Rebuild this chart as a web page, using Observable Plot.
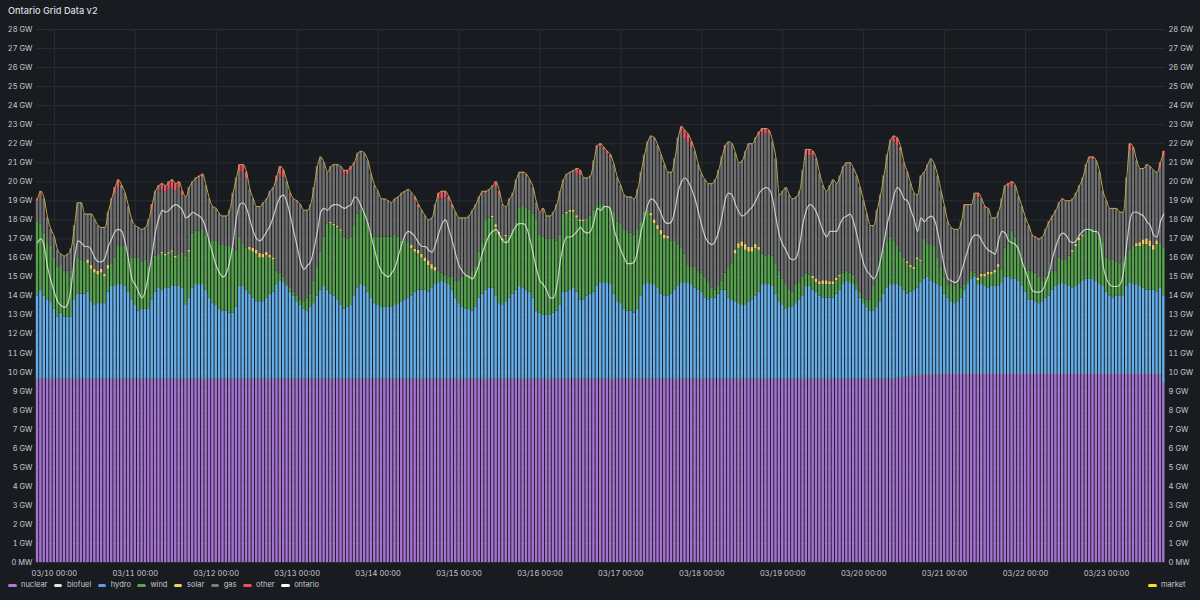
<!DOCTYPE html>
<html><head><meta charset="utf-8">
<script src="https://cdn.jsdelivr.net/npm/d3@7"></script>
<script src="https://cdn.jsdelivr.net/npm/@observablehq/plot@0.6"></script>
<style>
html,body{margin:0;padding:0;background:#181b1f;width:1200px;height:600px;overflow:hidden;font-family:Inter,"DejaVu Sans",sans-serif;}
#title{height:22px;line-height:22px;padding-left:8px;color:#d8d9e0;font-size:9.2px;font-weight:500;}
#chart svg{display:block;overflow:visible}
#legend{position:relative;height:18px;font-size:7.5px;color:#c7c8d2;}
#legend .group{position:absolute;top:-4px;left:8px;height:14px;display:flex;align-items:center;}
#legend .item{display:flex;align-items:center;margin-right:6.5px;white-space:nowrap;line-height:14px}
#legend .sw{width:8.5px;height:3px;border-radius:1.5px;margin-right:4.5px}
</style></head>
<body>
<div id="title">Ontario Grid Data v2</div>
<div id="chart"></div>
<div id="legend"></div>
<script>
// Hour index relative to 03/10 00:00, one bar per hour: -5 .. 329
const firstHour = -5, lastHour = 329;
const dayLabels = ["03/10 00:00","03/11 00:00","03/12 00:00","03/13 00:00","03/14 00:00","03/15 00:00","03/16 00:00","03/17 00:00","03/18 00:00","03/19 00:00","03/20 00:00","03/21 00:00","03/22 00:00","03/23 00:00"];
const gwTicks = [0,1,2,3,4,5,6,7,8,9,10,11,12,13,14,15,16,17,18,19,20,21,22,23,24,25,26,27,28];
const seriesNames = ["nuclear","biofuel","hydro","wind","solar","gas","other"];
const seriesColors = ["#a672d2","#cdeccb","#66aeea","#57a24c","#f3c96a","#707070","#ef5266"];

// GW per hour (rows: 5 hours before 03/10, then one row per day)
const nuclear = [
9.6,9.6,9.6,9.6,9.6,
9.6,9.6,9.6,9.6,9.6,9.6,9.6,9.6, 9.6,9.6,9.6,9.6,9.6,9.6,9.6,9.6, 9.6,9.6,9.6,9.6,9.6,9.6,9.6,9.6,
9.6,9.6,9.6,9.6,9.6,9.6,9.6,9.6, 9.6,9.6,9.6,9.6,9.6,9.6,9.6,9.6, 9.6,9.6,9.6,9.6,9.6,9.6,9.6,9.6,
9.6,9.6,9.6,9.6,9.6,9.6,9.6,9.6, 9.6,9.6,9.6,9.6,9.6,9.6,9.6,9.6, 9.6,9.6,9.6,9.6,9.6,9.6,9.6,9.6,
9.6,9.6,9.6,9.6,9.6,9.6,9.6,9.6, 9.6,9.6,9.6,9.6,9.6,9.6,9.6,9.6, 9.6,9.6,9.6,9.6,9.6,9.6,9.6,9.6,
9.6,9.6,9.6,9.6,9.6,9.6,9.6,9.6, 9.6,9.6,9.6,9.6,9.6,9.6,9.6,9.6, 9.6,9.6,9.6,9.6,9.6,9.6,9.6,9.6,
9.6,9.6,9.6,9.6,9.6,9.6,9.6,9.6, 9.6,9.6,9.6,9.6,9.6,9.6,9.6,9.6, 9.6,9.6,9.6,9.6,9.6,9.6,9.6,9.6,
9.6,9.6,9.6,9.6,9.6,9.6,9.6,9.6, 9.6,9.6,9.6,9.6,9.6,9.6,9.6,9.6, 9.6,9.6,9.6,9.6,9.6,9.6,9.6,9.6,
9.6,9.6,9.6,9.6,9.6,9.6,9.6,9.6, 9.6,9.6,9.6,9.6,9.6,9.6,9.6,9.6, 9.6,9.6,9.6,9.6,9.6,9.6,9.6,9.6,
9.6,9.6,9.6,9.6,9.6,9.6,9.6,9.6, 9.6,9.6,9.6,9.6,9.6,9.6,9.6,9.6, 9.6,9.6,9.6,9.6,9.6,9.6,9.6,9.6,
9.6,9.6,9.6,9.6,9.6,9.6,9.6,9.6, 9.6,9.6,9.6,9.6,9.6,9.6,9.6,9.6, 9.6,9.6,9.6,9.6,9.6,9.6,9.6,9.6,
9.6,9.6,9.6,9.6,9.6,9.6,9.6,9.6, 9.6,9.6, 9.65,9.65,9.7,9.7,9.75,9.8,9.8,9.85, 9.85,9.85,9.85,9.85,9.85, 9.9,
9.9,9.9,9.9,9.9,9.9,9.9,9.9,9.9, 9.9,9.9,9.9,9.9,9.9,9.9,9.9,9.9, 9.9,9.9,9.9,9.9,9.9,9.9,9.9,9.9,
9.9,9.9,9.9,9.9,9.9,9.9,9.9,9.9, 9.9,9.9,9.9,9.9,9.9,9.9,9.9,9.9, 9.9,9.9,9.9,9.9,9.9,9.9,9.9,9.9,
9.9,9.9,9.9,9.9,9.9,9.9,9.9,9.9, 9.9,9.9,9.9,9.9,9.9,9.9,9.9,9.9, 9.9,9.4
];
const biofuel = [
0.03,0.03,0.03,0.03,0.03,
0.03,0.03,0.03,0.03,0.03,0.03,0.03,0.03, 0.03,0.03,0.03,0.03,0.03,0.03,0.03,0.03, 0.03,0.03,0.03,0.03,0.03,0.03,0.03,0.03,
0.03,0.03,0.03,0.03,0.03,0.03,0.03,0.03, 0.03,0.03,0.03,0.03,0.03,0.03,0.03,0.03, 0.03,0.03,0.03,0.03,0.03,0.03,0.03,0.03,
0.03,0.03,0.03,0.03,0.03,0.03,0.03,0.03, 0.03,0.03,0.03,0.03,0.03,0.03,0.03,0.03, 0.03,0.03,0.03,0.03,0.03,0.03,0.03,0.03,
0.03,0.03,0.03,0.03,0.03,0.03,0.03,0.03, 0.03,0.03,0.03,0.03,0.03,0.03,0.03,0.03, 0.03,0.03,0.03,0.03,0.03,0.03,0.03,0.03,
0.03,0.03,0.03,0.03,0.03,0.03,0.03,0.03, 0.03,0.03,0.03,0.03,0.03,0.03,0.03,0.03, 0.03,0.03,0.03,0.03,0.03,0.03,0.03,0.03,
0.03,0.03,0.03,0.03,0.03,0.03,0.03,0.03, 0.03,0.03,0.03,0.03,0.03,0.03,0.03,0.03, 0.03,0.03,0.03,0.03,0.03,0.03,0.03,0.03,
0.03,0.03,0.03,0.03,0.03,0.03,0.03,0.03, 0.03,0.03,0.03,0.03,0.03,0.03,0.03,0.03, 0.03,0.03,0.03,0.03,0.03,0.03,0.03,0.03,
0.03,0.03,0.03,0.03,0.03,0.03,0.03,0.03, 0.03,0.03,0.03,0.03,0.03,0.03,0.03,0.03, 0.03,0.03,0.03,0.03,0.03,0.03,0.03,0.03,
0.03,0.03,0.03,0.03,0.03,0.03,0.03,0.03, 0.03,0.03,0.03,0.03,0.03,0.03,0.03,0.03, 0.03,0.03,0.03,0.03,0.03,0.03,0.03,0.03,
0.03,0.03,0.03,0.03,0.03,0.03,0.03,0.03, 0.03,0.03,0.03,0.03,0.03,0.03,0.03,0.03, 0.03,0.03,0.03,0.03,0.03,0.03,0.03,0.03,
0.03,0.03,0.03,0.03,0.03,0.03,0.03,0.03, 0.03,0.03,0.03,0.03,0.03,0.03,0.03,0.03, 0.03,0.03,0.03,0.03,0.03,0.03,0.03,0.03,
0.03,0.03,0.03,0.03,0.03,0.03,0.03,0.03, 0.03,0.03,0.03,0.03,0.03,0.03,0.03,0.03, 0.03,0.03,0.03,0.03,0.03,0.03,0.03,0.03,
0.03,0.03,0.03,0.03,0.03,0.03,0.03,0.03, 0.03,0.03,0.03,0.03,0.03,0.03,0.03,0.03, 0.03,0.03,0.03,0.03,0.03,0.03,0.03,0.03,
0.03,0.03,0.03,0.03,0.03,0.03,0.03,0.03, 0.03,0.03,0.03,0.03,0.03,0.03,0.03,0.03, 0.03,0.03
];
// top of the hydro layer (nuclear + biofuel + hydro), GW
const hydroLevel = [
14.0,14.3,14.0,13.8,13.7,13.3,12.9,13.1,12.9,12.9,12.9,13.8,14.1,14.1,14.1,14.2,13.7,13.5,13.6,13.6,13.6,14.2,14.5,14.5,14.6,14.6,14.5,14.2,13.8,13.5,13.2,13.3,13.3,13.3,13.8,14.2,14.4,14.3,14.4,14.4,14.5,14.5,14.5,
14.4,13.5,13.9,14.4,14.6,14.6,14.6,14.3,13.9,13.6,13.5,13.3,13.2,13.2,13.1,13.1,13.4,14.5,14.5,14.3,14.1,13.9,13.7,13.7,13.7,13.9,14.1,14.2,14.6,14.8,14.7,14.5,14.2,14.0,13.7,13.5,13.3,13.2,13.4,13.6,14.0,14.3,14.5,
14.3,14.1,14.0,13.8,13.5,13.3,13.4,13.5,14.0,14.4,14.6,14.5,14.2,13.9,13.6,13.5,13.4,13.4,13.4,13.4,13.5,13.6,13.7,13.8,13.9,14.0,14.2,14.3,14.3,14.3,14.2,14.4,14.6,14.7,14.8,14.7,14.6,14.3,13.9,13.6,13.4,13.3,13.3,
13.2,13.4,13.9,14.1,14.3,14.4,14.4,14.0,13.6,13.5,13.7,13.9,14.1,14.3,14.5,14.4,14.3,14.2,13.9,13.2,13.1,13.0,13.0,13.0,13.1,13.2,13.5,14.2,14.2,14.3,14.4,14.2,13.8,13.8,14.0,14.1,14.2,14.5,14.7,14.7,14.7,14.6,14.1,
13.7,13.6,13.3,13.2,13.2,13.1,13.3,14.0,14.6,14.7,14.6,14.6,14.4,14.1,14.0,14.0,14.1,14.3,14.5,14.7,14.7,14.7,14.6,14.4,14.3,14.2,13.9,13.8,13.9,13.9,14.1,14.3,14.3,13.9,13.8,13.7,13.6,13.5,13.5,13.7,13.8,14.0,14.2,
14.6,14.6,14.6,14.5,14.1,13.7,13.5,13.3,13.4,13.4,13.6,13.8,14.0,14.5,14.5,14.3,14.2,14.0,13.9,13.9,13.9,13.9,14.1,14.3,14.6,14.8,14.7,14.6,14.3,13.9,13.6,13.4,13.2,13.2,13.4,13.7,14.1,14.4,14.6,14.6,14.6,14.5,14.3,
14.1,14.2,14.3,14.4,14.7,14.9,15.0,14.8,14.7,14.6,14.5,14.1,13.9,13.7,13.6,13.7,13.9,14.3,14.6,14.9,15.0,14.6,14.6,14.5,14.4,14.5,14.5,14.5,14.7,15.0,15.0,14.9,14.9,14.8,14.5,14.2,13.8,13.8,13.7,13.6,13.7,13.9,14.0,
14.3,14.5,14.6,14.7,14.6,14.5,14.4,14.5,14.6,14.8,14.9,14.9,14.9,14.8,14.6,14.5,14.2,14.0,13.9,14.0,14.0,14.0,14.5,14.7,14.6,14.6,14.5,14.4,14.3,14.3,14.3,14.2,14.4,14.0
];
// top of the wind layer, GW
const windLevel = [
17.9,17.8,17.3,16.8,16.6,16.0,15.5,15.6,15.3,15.3,15.0,15.5,16.0,15.9,15.8,15.7,15.4,15.2,15.1,15.2,15.0,15.4,15.7,16.0,16.6,16.6,16.6,16.0,16.0,16.0,16.0,15.8,15.9,15.5,15.9,16.1,16.2,16.2,16.1,16.2,16.3,16.0,16.1,
16.2,16.0,16.3,17.3,17.4,17.4,17.5,17.2,17.0,16.9,16.9,16.7,16.7,16.6,16.6,16.5,16.4,17.1,16.7,16.5,16.4,16.3,16.2,16.0,16.0,16.1,16.0,15.9,15.3,15.2,15.0,14.6,14.4,14.2,14.0,13.8,13.7,13.9,14.1,14.8,15.5,16.3,17.1,
17.8,17.8,17.7,17.6,17.4,17.1,17.0,17.1,17.7,18.3,18.5,18.4,17.9,17.3,17.1,17.1,17.1,17.1,17.1,17.1,17.2,17.1,16.9,16.9,16.8,16.5,16.3,16.2,16.0,15.8,15.6,15.4,15.3,15.3,15.2,15.1,15.0,15.0,14.8,14.8,15.0,15.1,15.1,
15.3,15.5,16.3,16.8,18.0,18.1,18.1,17.6,17.2,16.9,17.1,17.2,17.5,17.9,18.6,18.7,18.6,18.5,18.3,18.0,17.2,17.1,17.0,17.0,17.0,16.9,17.2,18.3,18.3,18.4,18.4,18.1,17.9,17.9,18.1,18.2,18.5,18.7,18.8,18.8,18.7,18.7,18.4,
17.9,17.8,17.5,17.4,17.3,17.2,17.5,17.9,18.4,18.5,18.2,17.8,17.5,17.2,17.0,17.0,16.9,16.9,16.7,16.5,16.2,15.6,15.5,15.5,15.3,15.2,15.0,14.7,14.4,14.3,14.5,14.8,15.2,15.5,15.7,16.2,16.5,16.6,16.4,16.3,16.3,16.5,16.4,
16.2,16.1,16.2,16.1,15.7,15.3,14.9,14.6,14.3,14.2,14.6,14.7,15.0,15.2,15.1,14.9,14.7,14.6,14.6,14.6,14.6,14.6,14.8,15.0,15.2,15.3,15.2,15.1,14.6,14.2,13.9,13.8,13.8,14.5,14.9,15.8,16.4,16.8,17.1,16.9,16.6,16.3,16.0,
15.7,15.5,15.4,15.9,15.8,17.0,16.7,16.7,16.6,16.0,15.5,15.0,14.6,14.6,14.5,14.6,14.4,14.6,14.8,15.3,15.2,14.8,15.0,15.0,15.1,15.1,15.2,15.5,15.4,16.5,16.7,17.4,17.1,16.7,16.0,15.5,15.3,15.3,15.2,15.0,14.8,15.0,15.3,
15.3,15.3,16.0,15.9,15.9,16.1,16.3,16.6,16.9,17.1,17.4,17.5,17.5,17.4,17.3,16.8,16.0,15.9,15.9,15.8,15.7,15.8,16.1,16.4,16.6,16.6,16.6,16.7,16.7,16.6,16.4,16.7,16.8,16.5
];
const solar = [
0,0,0,0,0,
0,0,0,0,0,0,0,0,0,0,0.2,0.2,0.2,0.2,0.2,0.15,0.2,0,0,0,0,0,0,0,
0,0,0,0,0,0,0,0,0.08,0.08,0.08,0.08,0.08,0.05,0.05,0.05,0.1,0,0,0,0,0,0,0,
0,0,0,0,0,0,0,0,0,0,0.15,0.2,0.2,0.25,0.2,0.2,0.15,0.1,0,0,0,0,0,0,
0,0,0,0,0,0,0,0,0,0,0.08,0.08,0.08,0.08,0,0,0,0,0,0,0,0,0,0,
0,0,0,0,0,0,0,0,0,0,0.15,0.15,0.2,0.2,0.2,0.25,0.25,0.2,0,0,0,0,0,0,
0,0,0,0,0,0,0,0,0,0,0.1,0.15,0.15,0.1,0.1,0,0,0,0,0,0,0,0,0,
0,0,0,0,0,0,0,0,0.1,0.1,0.12,0.12,0.1,0.1,0,0,0,0,0,0,0,0,0,0,
0,0,0,0,0,0,0,0,0,0.15,0.2,0.2,0.25,0.2,0.15,0,0,0,0,0,0,0,0,0,
0,0,0,0,0,0,0,0,0,0,0.2,0.25,0.25,0.3,0.25,0.25,0.2,0.15,0,0,0,0,0,0,
0,0,0,0,0,0,0,0,0,0.15,0.2,0.15,0.2,0.2,0.15,0.15,0.15,0.1,0,0,0,0,0,0,
0,0,0,0,0,0,0,0,0,0,0,0,0,0.1,0.1,0.1,0.1,0.08,0,0,0,0,0,0,
0,0,0,0,0,0,0,0,0,0,0.15,0.15,0.15,0.15,0.15,0.15,0.15,0,0,0,0,0,0,0,
0,0,0,0,0,0,0,0,0,0,0,0,0,0,0.1,0.12,0.12,0.1,0,0,0,0,0,0,
0,0,0,0,0,0,0,0,0,0.15,0.2,0.25,0.3,0.3,0.25,0.2,0,0
];
const other = [
0.15,0.2,0.02,0.02,0.02,
0.02,0.02,0.02,0.02,0.02,0.02,0.02,0.02,0.02,0.02,0.02,0.02,0.02,0.02,0.02,0.02,0.02,0.1,0.35,0.4,0.15,0.02,0.02,0.02,
0.02,0.02,0.02,0.02,0.02,0.3,0.02,0.2,0.3,0.35,0.4,0.45,0.4,0.3,0.25,0.02,0.02,0.02,0.02,0.02,0.2,0.02,0.02,0.02,
0.05,0.02,0.02,0.02,0.02,0.02,0.02,0.4,0.4,0.35,0.02,0.02,0.02,0.02,0.02,0.02,0.02,0.02,0.3,0.45,0.4,0.02,0.1,0.02,
0.02,0.02,0.02,0.02,0.02,0.02,0.02,0.02,0.02,0.02,0.02,0.02,0.02,0.02,0.2,0.25,0.2,0.1,0.02,0.02,0.02,0.02,0.02,0.02,
0.02,0.02,0.02,0.02,0.02,0.02,0.02,0.02,0.02,0.02,0.02,0.2,0.15,0.02,0.02,0.02,0.02,0.02,0.3,0.4,0.35,0.25,0.15,0.02,
0.02,0.02,0.02,0.02,0.02,0.02,0.02,0.02,0.15,0.02,0.02,0.3,0.2,0.02,0.02,0.02,0.02,0.02,0.02,0.1,0.02,0.02,0.02,0.02,
0.02,0.1,0.02,0.02,0.02,0.02,0.02,0.02,0.02,0.02,0.02,0.3,0.3,0.02,0.02,0.02,0.02,0.15,0.15,0.15,0.15,0.15,0.02,0.02,
0.02,0.02,0.02,0.02,0.02,0.02,0.02,0.02,0.02,0.1,0.02,0.02,0.1,0.02,0.02,0.02,0.02,0.02,0.3,0.45,0.45,0.3,0.02,0.02,
0.02,0.02,0.02,0.02,0.02,0.02,0.02,0.15,0.02,0.02,0.02,0.02,0.02,0.02,0.1,0.02,0.02,0.2,0.25,0.3,0.2,0.02,0.02,0.02,
0.02,0.02,0.02,0.02,0.02,0.02,0.02,0.3,0.35,0.25,0.1,0.02,0.02,0.02,0.02,0.02,0.02,0.02,0.02,0.02,0.02,0.02,0.02,0.1,
0.02,0.02,0.02,0.02,0.02,0.02,0.02,0.02,0.02,0.35,0.4,0.2,0.02,0.1,0.02,0.02,0.02,0.02,0.02,0.02,0.05,0.02,0.02,0.02,
0.02,0.02,0.02,0.02,0.02,0.02,0.1,0.02,0.02,0.02,0.25,0.02,0.1,0.02,0.02,0.02,0.02,0.02,0.02,0.2,0.25,0.02,0.02,0.02,
0.02,0.02,0.02,0.02,0.1,0.02,0.02,0.1,0.02,0.02,0.02,0.1,0.02,0.02,0.02,0.02,0.02,0.02,0.02,0.1,0.15,0.02,0.05,0.02,
0.02,0.02,0.02,0.02,0.02,0.02,0.02,0.35,0.2,0.02,0.02,0.02,0.02,0.02,0.02,0.02,0.3,0.35
];
// market demand (top of the stack), GW
const market = [
19.1,19.5,19.1,18.1,17.5,17.1,16.4,16.2,16.1,16.2,16.5,17.7,18.9,18.9,18.3,18.3,18.3,18.0,17.7,17.6,17.6,18.4,19.1,19.7,20.1,19.8,19.4,18.7,18.0,17.7,17.6,17.5,17.6,18.0,18.8,19.5,19.8,19.9,19.8,20.0,20.1,19.9,20.0,
19.5,19.2,19.7,20.0,20.2,20.3,20.4,19.8,19.1,18.7,18.6,18.3,18.2,18.2,18.5,19.4,20.2,20.9,20.9,20.5,19.6,19.1,18.7,18.7,18.9,19.1,19.5,19.7,20.3,20.8,20.6,20.0,19.4,19.1,19.0,18.8,18.5,18.5,18.8,19.7,20.8,21.3,21.0,
20.5,20.8,20.9,20.9,20.8,20.6,20.6,20.8,21.0,21.5,21.6,21.5,21.1,20.4,19.8,19.5,19.1,19.1,19.0,18.9,19.1,19.2,19.4,19.5,19.6,19.4,19.2,18.8,18.5,18.2,18.0,18.1,18.8,19.4,19.5,19.5,19.2,18.8,18.4,18.1,18.1,18.1,18.2,
18.5,18.8,19.2,19.5,19.5,19.6,19.8,20.0,19.5,18.8,18.7,19.1,19.4,20.1,20.5,20.5,20.4,20.1,19.7,18.9,18.4,18.6,18.2,18.2,18.4,18.8,19.5,20.1,20.4,20.5,20.6,20.7,20.6,20.2,20.2,20.3,21.1,21.9,22.0,21.8,21.6,21.4,20.9,
20.2,19.8,19.3,19.2,19.2,19.1,19.6,20.5,21.4,22.1,22.4,22.3,21.9,21.4,20.9,20.5,20.5,21.2,22.3,22.9,22.7,22.5,22.1,21.6,20.9,20.4,20.1,19.9,19.9,20.1,20.6,21.3,21.9,22.1,22.0,21.5,21.0,21.1,21.6,22.0,22.0,22.3,22.6,
22.8,22.8,22.7,22.1,21.2,19.3,19.5,19.7,19.3,19.1,19.2,19.5,20.6,21.7,21.7,21.6,21.2,20.4,19.8,19.5,19.8,20.1,19.9,20.3,20.8,21.0,21.0,20.7,20.3,19.7,19.0,18.3,17.7,17.7,18.5,19.3,20.3,21.4,22.2,22.4,22.3,21.8,21.0,
20.5,19.9,19.4,19.3,20.3,20.5,20.9,21.2,20.9,20.3,19.5,18.7,17.9,17.6,17.5,17.5,17.9,18.8,18.8,18.8,19.4,19.4,19.1,18.7,18.6,18.1,18.1,18.4,19.1,19.8,19.9,20.0,19.8,19.2,18.7,18.1,17.7,17.2,17.1,17.0,17.1,17.5,17.9,
18.2,18.5,18.9,19.1,19.0,19.0,19.1,19.4,19.8,20.2,20.9,21.3,21.3,21.1,20.5,19.5,19.0,18.6,18.6,18.6,18.4,18.4,20.2,22.0,21.8,21.1,20.7,20.7,20.9,20.8,20.6,20.5,21.0,21.6
];
// Ontario demand, GW
const ontario = [
16.8,17.0,16.6,15.5,14.8,14.2,13.7,13.5,13.4,13.6,14.5,16.0,16.9,16.8,16.6,16.6,16.4,16.0,15.8,15.8,16.0,16.6,17.0,17.4,17.5,17.4,16.8,15.9,14.9,14.6,14.2,13.9,14.3,15.2,16.2,17.4,18.1,18.5,18.4,18.5,18.7,18.8,18.7,
18.5,18.1,18.2,18.4,18.3,18.2,18.0,17.5,16.8,16.2,15.6,15.2,15.0,15.2,15.8,16.8,18.1,18.8,18.9,18.6,18.0,17.4,17.0,16.9,17.1,17.4,17.7,18.2,18.8,19.2,19.3,18.9,18.2,17.4,16.6,15.8,15.4,15.6,15.8,16.5,17.4,18.4,18.6,
18.5,18.7,18.8,18.8,18.7,18.6,18.7,18.8,19.2,19.1,18.7,18.3,17.8,17.1,16.4,15.7,15.3,15.1,15.0,15.2,15.5,16.1,16.7,17.2,17.4,17.3,17.1,16.8,16.6,16.6,16.4,16.3,16.7,17.3,17.8,18.0,17.5,16.9,16.2,15.6,15.3,15.1,15.0,
14.9,15.2,15.7,16.3,16.8,17.2,17.4,17.5,17.2,16.9,16.8,17.0,17.4,17.7,17.8,17.8,17.6,17.0,16.2,15.4,14.8,14.6,14.3,13.9,13.9,14.5,15.8,16.7,17.1,17.1,17.2,17.4,17.6,17.4,17.3,17.4,17.9,18.6,18.5,18.7,18.7,18.5,17.5,
16.9,16.4,16.0,15.7,15.7,15.8,16.4,17.4,18.1,18.8,19.1,19.0,18.7,18.3,17.9,17.8,17.9,18.5,19.5,20.0,20.2,20.0,19.6,19.1,18.4,17.7,17.1,16.8,16.7,16.9,17.4,18.2,19.1,19.4,19.3,18.8,18.4,18.2,18.3,18.5,18.7,19.0,19.4,
19.6,19.7,19.6,19.1,18.1,17.2,16.7,16.4,16.0,15.9,16.0,16.7,17.8,18.5,18.8,18.7,18.4,17.9,17.4,17.1,17.4,17.4,17.4,17.8,18.1,18.2,18.3,17.9,17.2,16.4,15.7,15.3,15.1,14.9,15.2,15.9,16.8,17.8,18.5,19.3,19.7,19.5,19.1,
19.0,18.5,18.0,17.4,18.1,17.9,18.1,18.2,18.0,17.3,16.4,15.5,14.9,14.8,14.7,14.8,15.3,15.9,16.5,17.0,17.2,17.2,16.9,16.6,16.4,16.3,16.2,16.9,17.4,17.3,16.9,16.8,16.7,16.4,15.8,15.3,14.8,14.3,14.2,14.2,14.3,14.7,15.2,
16.0,16.6,17.1,17.3,17.2,16.9,16.8,16.9,17.2,17.4,17.5,17.5,17.4,17.4,17.1,15.6,14.9,14.6,14.5,14.5,14.6,15.2,16.7,18.0,18.4,18.4,18.3,18.2,17.9,17.7,17.2,17.1,17.9,18.3
];

const hours = d3.range(firstHour, lastHour + 1);
const arrays = {nuclear, biofuel, hydroLevel, windLevel, solar, other, market, ontario};
const bad = Object.entries(arrays).filter(([k, a]) => a.length !== hours.length).map(([k, a]) => k + "=" + a.length);
if (bad.length) throw new Error("length mismatch (expected " + hours.length + "): " + bad.join(", "));

// build stacked rectangles
const rows = [];
hours.forEach((h, i) => {
  const v = {
    nuclear: nuclear[i],
    biofuel: biofuel[i],
    hydro: hydroLevel[i] - nuclear[i] - biofuel[i],
    wind: windLevel[i] - hydroLevel[i],
    solar: solar[i],
    gas: market[i] - other[i] - solar[i] - windLevel[i],
    other: other[i]
  };
  let y = 0;
  for (const s of seriesNames) {
    const val = Math.max(0, v[s]);
    if (val > 0) rows.push({h, series: s, y1: y, y2: y + val});
    y += val;
  }
});
const lineData = hours.map((h, i) => ({h, ontario: ontario[i], market: market[i]}));
const dayPos = dayLabels.map((d, i) => i * 24);
const gwFormat = d => d === 0 ? "0 MW" : d + " GW";
const gridColor = "#2a2d33";

const chart = Plot.plot({
  width: 1200,
  height: 560,
  marginTop: 7,
  marginBottom: 20,
  marginLeft: 36,
  marginRight: 35,
  style: {background: "transparent", color: "#c8c9d2", fontFamily: "Inter, 'DejaVu Sans', sans-serif", fontSize: "7.5px", overflow: "visible"},
  x: {type: "linear", domain: [-5.3, 329.5]},
  y: {domain: [0, 28]},
  color: {domain: seriesNames, range: seriesColors},
  marks: [
    Plot.gridY(gwTicks, {stroke: gridColor, strokeOpacity: 1}),
    Plot.gridX(dayPos, {stroke: gridColor, strokeOpacity: 1}),
    Plot.rect(rows, {x1: d => d.h - 0.36, x2: d => d.h + 0.36, y1: "y1", y2: "y2", fill: "series"}),
    Plot.line(lineData, {x: "h", y: "ontario", stroke: "#ffffff", strokeOpacity: 0.68, strokeWidth: 1.2, curve: "monotone-x"}),
    Plot.line(lineData, {x: "h", y: "market", stroke: "#b8aa4c", strokeWidth: 1, curve: "monotone-x"}),
    Plot.axisY(gwTicks, {anchor: "left", tickSize: 0, tickPadding: 4, tickFormat: gwFormat, label: null}),
    Plot.axisY(gwTicks, {anchor: "right", tickSize: 0, tickPadding: 3, tickFormat: gwFormat, label: null}),
    Plot.axisX(dayPos, {anchor: "bottom", tickSize: 0, tickPadding: 8, tickFormat: d => dayLabels[d / 24], label: null})
  ]
});
document.getElementById("chart").appendChild(chart);

// legend
const legendNames = ["nuclear","biofuel","hydro","wind","solar","gas","other","ontario"];
const legendColors = ["#b679db","#d6f0d4","#5b9ee8","#58a64c","#f5cf5a","#7b7b7b","#f2495c","#ffffff"];
const leg = document.getElementById("legend");
const g = document.createElement("div"); g.className = "group";
legendNames.forEach((n, i) => {
  const it = document.createElement("div"); it.className = "item";
  it.innerHTML = `<span class="sw" style="background:${legendColors[i]}"></span><span>${n}</span>`;
  g.appendChild(it);
});
leg.appendChild(g);
const m = document.createElement("div"); m.className = "group"; m.style.left = "1148px";
m.innerHTML = `<div class="item"><span class="sw" style="background:#fade2a"></span><span>market</span></div>`;
leg.appendChild(m);
</script>
</body></html>
